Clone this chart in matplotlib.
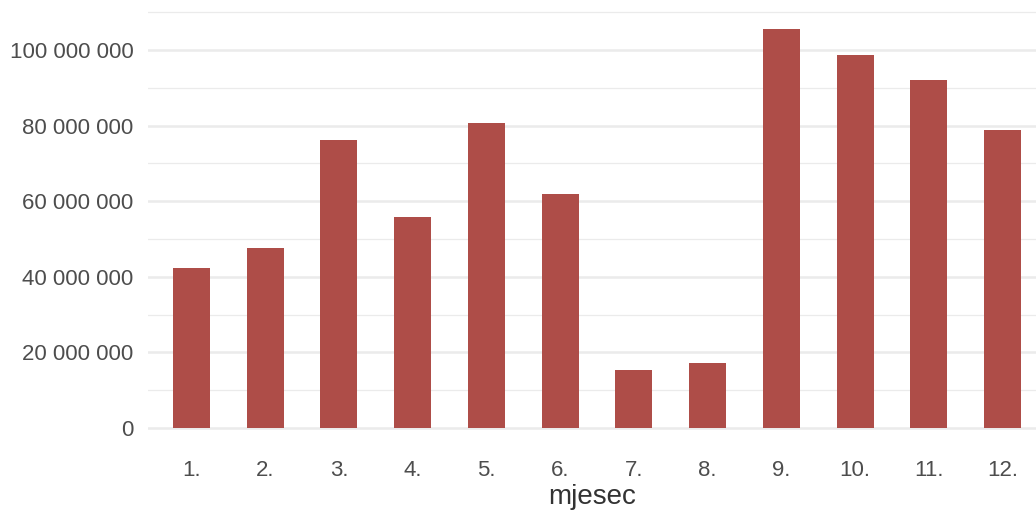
import matplotlib
matplotlib.use("Agg")
import matplotlib.pyplot as plt
from matplotlib.ticker import FuncFormatter, MultipleLocator

months = ["1.", "2.", "3.", "4.", "5.", "6.", "7.", "8.", "9.", "10.", "11.", "12."]
values = [42.3e6, 47.6e6, 76.2e6, 55.8e6, 80.7e6, 61.9e6, 15.3e6, 17.2e6,
          105.6e6, 98.7e6, 92.1e6, 78.8e6]

plt.rcParams['font.family'] = ['Liberation Sans', 'DejaVu Sans']

W, H = 1036, 514
fig = plt.figure(figsize=(W / 100, H / 100), dpi=100)
ax = fig.add_axes([148 / W, (H - 448) / H, 888 / W, (448 - 8.8) / H])

x = list(range(len(months)))
ax.bar(x, values, width=0.502, color="#AE4D48", zorder=3)

ax.set_xlim(-0.59, 11.454)
ax.set_ylim(-5.28e6, 110.9e6)

ax.yaxis.set_major_locator(MultipleLocator(20e6))
ax.yaxis.set_minor_locator(MultipleLocator(10e6))
ax.yaxis.set_major_formatter(FuncFormatter(lambda v, p: f"{int(round(v)):,}".replace(",", " ")))
ax.grid(axis="y", which="major", color="#EBEBEB", linewidth=1.8, zorder=0)
ax.grid(axis="y", which="minor", color="#EBEBEB", linewidth=0.9, zorder=0)

ax.set_xticks(x)
ax.set_xticklabels(months)
ax.tick_params(axis="both", which="both", length=0, colors="#4D4D4D", labelsize=16)
ax.tick_params(axis="x", pad=9)
ax.tick_params(axis="y", pad=10.5)

for s in ax.spines.values():
    s.set_visible(False)

ax.set_xlabel("mjesec", fontsize=20, color="#333333", labelpad=2)

fig.savefig("out.png", dpi=100)
